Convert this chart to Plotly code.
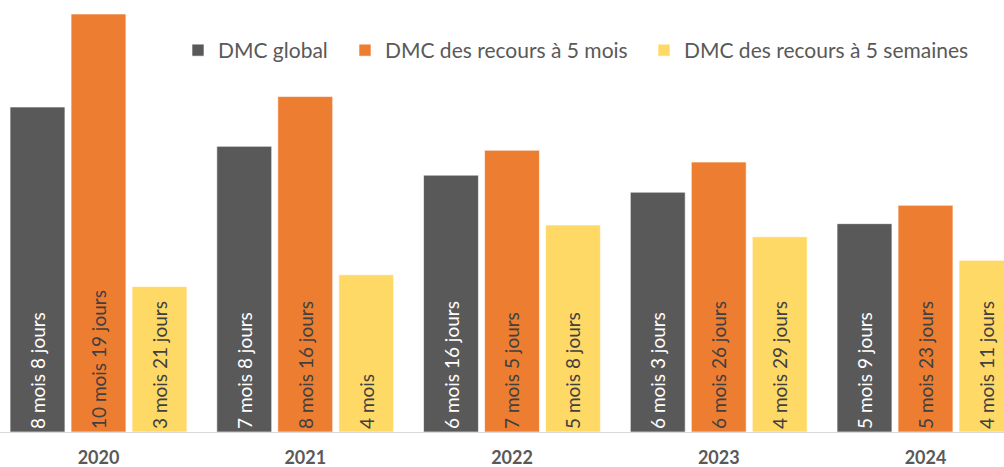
import plotly.graph_objects as go

years = ["2020", "2021", "2022", "2023", "2024"]
series_names = ["DMC global", "DMC des recours à 5 mois", "DMC des recours à 5 semaines"]
# durations in days (months counted as 30 days)
global_days = [248, 218, 196, 183, 159]
mois5_days = [319, 256, 215, 206, 173]
sem5_days = [111, 120, 158, 149, 131]
global_labels = ["8 mois 8 jours", "7 mois 8 jours", "6 mois 16 jours", "6 mois 3 jours", "5 mois 9 jours"]
mois5_labels = ["10 mois 19 jours", "8 mois 16 jours", "7 mois 5 jours", "6 mois 26 jours", "5 mois 23 jours"]
sem5_labels = ["3 mois 21 jours", "4 mois", "5 mois 8 jours", "4 mois 29 jours", "4 mois 11 jours"]

colors = ["#595959", "#ED7D31", "#FFD966"]
text_colors = ["#FFFFFF", "#404040", "#404040"]
FONT = "Lato"

fig = go.Figure()
data = [(global_days, global_labels), (mois5_days, mois5_labels), (sem5_days, sem5_labels)]
legend_ids = ["legend", "legend2", "legend3"]
for i, ((vals, labs), name) in enumerate(zip(data, series_names)):
    fig.add_trace(go.Bar(
        x=years, y=vals, name=name, text=labs, showlegend=True,
        textposition="inside", insidetextanchor="start", textangle=-90,
        textfont=dict(family=FONT, size=19, color=text_colors[i]),
        marker=dict(color=colors[i], line=dict(color="rgba(255,255,255,0.6)", width=1)),
        legend=legend_ids[i], hoverinfo="skip",
    ))

W, H = 1004, 467
plot_h = 432
leg_y = 1 - 50.5 / plot_h
leg_common = dict(orientation="h", yanchor="middle", y=leg_y, xanchor="left",
                  font=dict(family=FONT, size=21, color="#595959"),
                  bgcolor="rgba(0,0,0,0)")
fig.update_layout(
    width=W, height=H, showlegend=True,
    margin=dict(l=0, r=0, t=0, b=H - plot_h, autoexpand=False),
    paper_bgcolor="white", plot_bgcolor="white",
    barmode="group", bargap=0.115, bargroupgap=0.1,
    legend=dict(x=178 / W, **leg_common),
    legend2=dict(x=345 / W, **leg_common),
    legend3=dict(x=644 / W, **leg_common),
    xaxis=dict(
        range=[-0.4764, 4.3797], showgrid=False, zeroline=False,
        showline=True, linecolor="#D9D9D9", linewidth=1, automargin=False,
        ticks="", ticklabelstandoff=9,
        tickfont=dict(family=FONT, size=18, color="#595959", weight="bold"),
    ),
    yaxis=dict(range=[0, plot_h / (418 / 319)], visible=False, showgrid=False),
)

fig.write_html("out.html", config={"displayModeBar": False},
               post_script="document.body.style.margin='0px';document.body.style.overflow='hidden';")
